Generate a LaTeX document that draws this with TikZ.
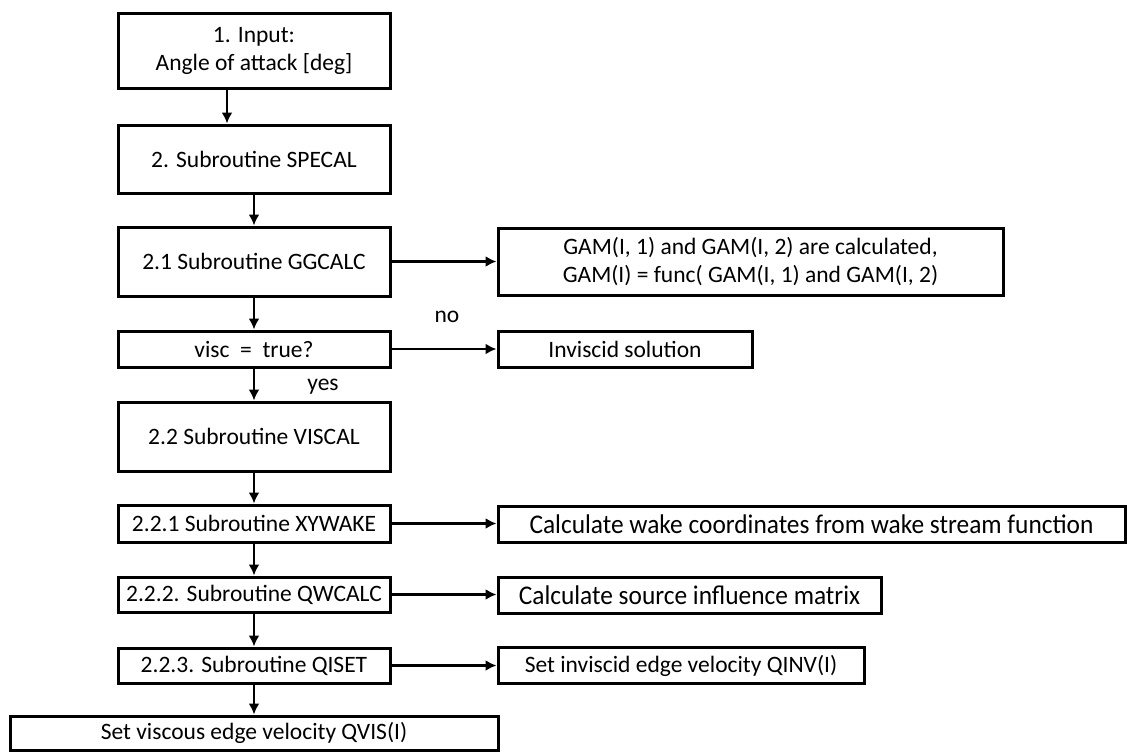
\documentclass[tikz,border=0pt]{standalone}
\usepackage{fontspec}
\setmainfont{Carlito}
\usetikzlibrary{arrows.meta}
\tikzset{
  box/.style={draw=black, line width=3pt, fill=white, inner sep=0pt, align=center,
    font=\fontsize{23.5}{28}\selectfont},
  arr/.style={line width=2.2pt, -{Latex[length=11pt,width=11pt]}},
  lbl/.style={font=\fontsize{23.5}{28}\selectfont, inner sep=0pt}
}
\newcommand{\narrowtext}[1]{\scalebox{0.94}[1]{\fontsize{27}{30}\selectfont #1}}
\begin{document}
\begin{tikzpicture}[x=1pt,y=-1pt]
\useasboundingbox (0,0) rectangle (1127,752);
% left column
\node[box, minimum width=272pt, minimum height=74pt] (in) at (254,51) {1. Input:\\Angle of attack [deg]};
\node[box, minimum width=272pt, minimum height=68pt] (specal) at (254,159) {2. Subroutine SPECAL};
\node[box, minimum width=272pt, minimum height=69pt] (ggcalc) at (254,261.5) {2.1 Subroutine GGCALC};
\node[box, minimum width=272pt, minimum height=36pt] (visc) at (254,349) {visc\ \ =\ \ true?};
\node[box, minimum width=272pt, minimum height=69pt] (viscal) at (254,436.5) {2.2 Subroutine VISCAL};
\node[box, minimum width=272pt, minimum height=37pt] (xywake) at (254,523.5) {2.2.1 Subroutine XYWAKE};
\node[box, minimum width=272pt, minimum height=35pt] (qwcalc) at (254,594.5) {2.2.2. Subroutine QWCALC};
\node[box, minimum width=272pt, minimum height=35pt] (qiset) at (254,665.5) {2.2.3. Subroutine QISET};
\node[box, minimum width=488pt, minimum height=34pt] (qvis) at (254,733) {Set viscous edge velocity QVIS(I)};
% right column
\node[box, minimum width=505pt, minimum height=67pt] (gam) at (750.5,261.5) {GAM(I, 1) and GAM(I, 2) are calculated,\\GAM(I) = func( GAM(I, 1) and GAM(I, 2)};
\node[box, minimum width=254pt, minimum height=36pt] (invisc) at (625,349) {Inviscid solution};
\node[box, minimum width=627pt, minimum height=36pt] (wake) at (811.5,524.5) {\narrowtext{Calculate wake coordinates from wake stream function}};
\node[box, minimum width=383pt, minimum height=36pt] (source) at (689.5,595) {\narrowtext{Calculate source influence matrix}};
\node[box, minimum width=366pt, minimum height=36pt] (qinv) at (681,665.5) {Set inviscid edge velocity QINV(I)};
% labels
\node[lbl] (no) at (447,317) {no};
\node[lbl] (yes) at (323,387) {yes};
% vertical arrows
\draw[arr] ([xshift=-27pt]in.south) -- ([xshift=-27pt]in.south |- specal.north);
\draw[arr] (specal.south) -- (ggcalc.north);
\draw[arr] (ggcalc.south) -- (visc.north);
\draw[arr] (visc.south) -- (viscal.north);
\draw[arr] (viscal.south) -- (xywake.north);
\draw[arr] (xywake.south) -- (qwcalc.north);
\draw[arr] (qwcalc.south) -- (qiset.north);
\draw[arr] (qiset.south) -- (qvis.north);
% horizontal arrows
\draw[arr] (ggcalc.east) -- (gam.west);
\draw[arr] (visc.east) -- (invisc.west);
\draw[arr] (xywake.east) -- (xywake.east -| wake.west);
\draw[arr] (qwcalc.east) -- (qwcalc.east -| source.west);
\draw[arr] (qiset.east) -- (qiset.east -| qinv.west);
\end{tikzpicture}
\end{document}
